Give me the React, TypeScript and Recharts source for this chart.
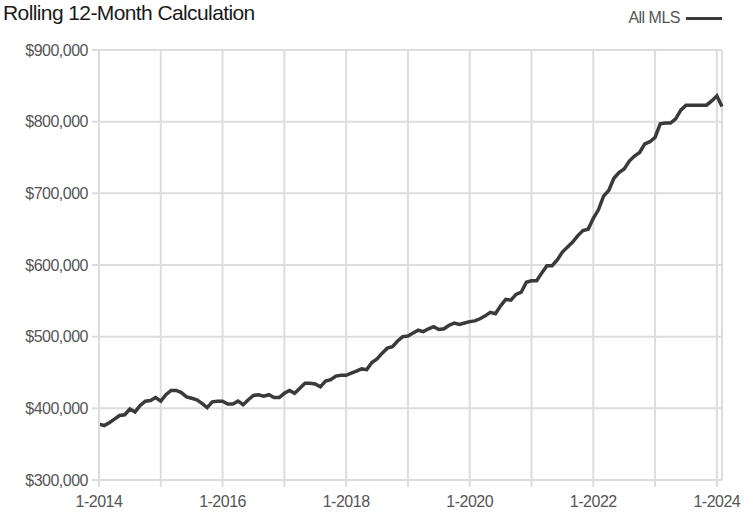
import { LineChart, Line, XAxis, YAxis, CartesianGrid, ReferenceLine } from "recharts"

// monthly rolling 12-month values, 1-2014 .. 2-2024 (in $ thousands)
const y2014 = [378, 376, 380, 385, 390, 391, 399, 395, 404, 410, 411, 415]
const y2015 = [410, 419, 425, 425, 422, 416, 414, 412, 407, 401, 409, 410]
const y2016 = [410, 406, 406, 410, 405, 412, 418, 419, 417, 419, 415, 415]
const y2017 = [421, 425, 421, 428, 435, 435, 434, 430, 438, 440, 445, 446]
const y2018 = [446, 449, 452, 455, 454, 464, 469, 477, 484, 486, 494, 500]
const y2019 = [501, 505, 509, 507, 511, 514, 510, 511, 516, 519, 517, 519]
const y2020 = [521, 522, 525, 529, 534, 532, 543, 552, 551, 559, 562, 576]
const y2021 = [578, 578, 589, 599, 599, 607, 618, 625, 632, 641, 648, 650]
const y2022 = [665, 677, 696, 704, 721, 729, 734, 745, 752, 757, 769, 772]
const y2023 = [778, 797, 798, 798, 804, 816, 823, 823, 823, 823, 823, 829]
const y2024 = [836, 821]

const startYear = 2014
const yearTicks = [0, 12, 24, 36, 48, 60, 72, 84, 96, 108, 120]
const valueTicks = [300000, 400000, 500000, 600000, 700000, 800000, 900000]

const allValues = [...y2014, ...y2015, ...y2016, ...y2017, ...y2018, ...y2019, ...y2020, ...y2021, ...y2022, ...y2023, ...y2024]
const data = allValues.map((v, i) => ({ i, value: v * 1000 }))

const FONT = "'Liberation Sans', Arial, sans-serif"
const GRID = "#dddddd"

const XTick = (props: any) => {
  const { x, y, payload } = props
  if (payload.value % 24 !== 0) return <g />
  return (
    <text x={x} y={y + 18} textAnchor="middle" fill="#555" fontSize={16} letterSpacing={-0.5} fontFamily={FONT}>
      {`1-${startYear + payload.value / 12}`}
    </text>
  )
}

export default function App() {
  return (
    <div style={{ position: "absolute", left: 0, top: 0, width: 753, height: 515, background: "#fff", fontFamily: FONT }}>
      <div style={{ position: "absolute", left: 3, top: -1, fontSize: 21, letterSpacing: -0.6, lineHeight: "28px", color: "#1a1a1a" }}>
        Rolling 12-Month Calculation
      </div>
      <div style={{ position: "absolute", right: 31, top: 9, display: "flex", alignItems: "center", gap: 6 }}>
        <span style={{ fontSize: 16, letterSpacing: -0.5, color: "#555" }}>All MLS</span>
        <span style={{ display: "inline-block", width: 36, height: 3, background: "#3a3a3a" }} />
      </div>
      <LineChart width={753} height={515} data={data} margin={{ top: 50, right: 31, bottom: 0, left: 0 }}>
        <CartesianGrid stroke={GRID} strokeWidth={2} />
        <XAxis
          dataKey="i"
          type="number"
          domain={[0, allValues.length - 1]}
          ticks={yearTicks}
          tick={<XTick />}
          tickSize={7}
          height={35}
          axisLine={{ stroke: GRID, strokeWidth: 2 }}
          tickLine={{ stroke: GRID, strokeWidth: 2 }}
          interval={0}
        />
        <YAxis
          domain={[300000, 900000]}
          ticks={valueTicks}
          width={99}
          tickSize={7}
          tickMargin={4}
          tickFormatter={(v: number) => `$${v.toLocaleString("en-US")}`}
          tick={{ fill: "#555", fontSize: 16, letterSpacing: -0.5, fontFamily: FONT }}
          axisLine={{ stroke: GRID, strokeWidth: 2 }}
          tickLine={{ stroke: GRID, strokeWidth: 2 }}
          interval={0}
        />
        <ReferenceLine x={allValues.length - 1} stroke={GRID} strokeWidth={2} />
        <Line
          type="linear"
          dataKey="value"
          stroke="#3a3a3a"
          strokeWidth={3.5}
          dot={false}
          isAnimationActive={false}
        />
      </LineChart>
    </div>
  )
}
